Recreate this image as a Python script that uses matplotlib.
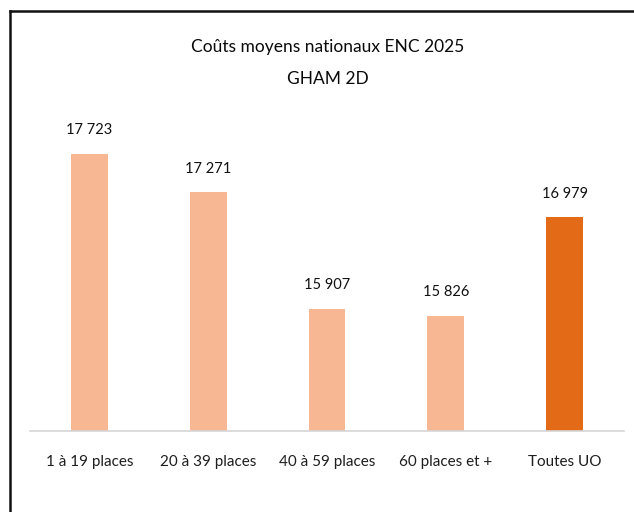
import matplotlib
matplotlib.use("Agg")
import matplotlib.pyplot as plt
from matplotlib.lines import Line2D

plt.rcParams['font.family'] = ['Lato', 'DejaVu Sans']

# Average national costs per capacity bracket
categories = ['1 à 19 places', '20 à 39 places', '40 à 59 places', '60 places et +', 'Toutes UO']
costs = [17723, 17271, 15907, 15826, 16979]
value_labels = ['17 723', '17 271', '15 907', '15 826', '16 979']
bar_colors = ['#F8B793', '#F8B793', '#F8B793', '#F8B793', '#E36A17']

W, H = 634, 512
fig = plt.figure(figsize=(W / 100, H / 100), dpi=100)

# plot area in pixels: x 30..624, y 100..431 (from top)
left, right, top, base = 30, 624, 100, 431
ax = fig.add_axes([left / W, 1 - base / H, (right - left) / W, (base - top) / H])

x = range(len(categories))
ax.bar(x, costs, width=0.31, color=bar_colors, zorder=2)
ax.set_xlim(-0.5, len(categories) - 0.5)
ax.set_ylim(14480, 18353)

for xi, v, lab in zip(x, costs, value_labels):
    ax.annotate(lab, (xi, v), xytext=(0, 17), textcoords='offset points',
                ha='center', va='center', fontsize=10.5, color='#111111')

ax.set_xticks(list(x))
ax.set_xticklabels(categories, fontsize=11, color='#1e1e1e')
ax.tick_params(axis='x', length=0, pad=17)
ax.set_yticks([])
for side in ['left', 'right', 'top']:
    ax.spines[side].set_visible(False)
ax.spines['bottom'].set_color('#D6D6D6')
ax.spines['bottom'].set_linewidth(1.2)

fig.text(328 / W, 1 - 47 / H, 'Coûts moyens nationaux ENC 2025', ha='center', va='center',
         fontsize=12.5, color='#0a0a0a')
fig.text(328 / W, 1 - 79 / H, 'GHAM 2D', ha='center', va='center',
         fontsize=12.5, color='#0a0a0a')

# outer frame: left and top edges only
fig.add_artist(Line2D([9.7 / W, 9.7 / W], [0, 1 - 10.5 / H], transform=fig.transFigure,
                      color='#111111', lw=1.8))
fig.add_artist(Line2D([9.7 / W, 1], [1 - 10.5 / H, 1 - 10.5 / H], transform=fig.transFigure,
                      color='#111111', lw=1.8))

fig.savefig('out.png', dpi=100)
